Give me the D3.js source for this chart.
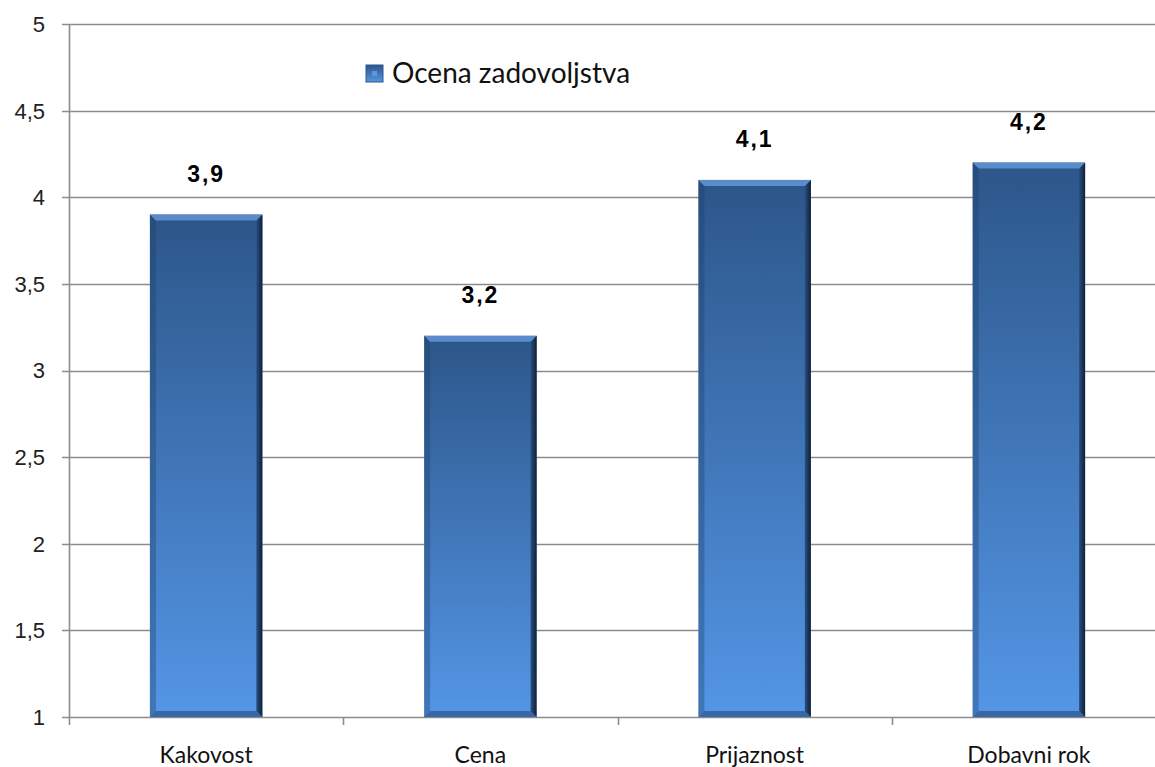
<!DOCTYPE html>
<html>
<head>
<meta charset="utf-8">
<script src="https://cdnjs.cloudflare.com/ajax/libs/d3/7.8.5/d3.min.js"></script>
<style>
  body { margin: 0; background: #fff; }
</style>
</head>
<body>
<svg id="chart"></svg>
<script>
const categories = ['Kakovost', 'Cena', 'Prijaznost', 'Dobavni rok'];
const values = [3.9, 3.2, 4.1, 4.2];
const yTicks = [1, 1.5, 2, 2.5, 3, 3.5, 4, 4.5, 5];
const seriesName = 'Ocena zadovoljstva';

const width = 1155, height = 767;
const margin = {top: 24, left: 69, bottom: 50};
const plotW = 1097;
const plotH = height - margin.top - margin.bottom;

const svg = d3.select('#chart').attr('width', width).attr('height', height);

const fmt = v => String(v).replace('.', ',');

const x = d3.scaleBand().domain(categories).range([0, plotW]).paddingInner(0.59).paddingOuter(0.295);
const xCat = d3.scaleBand().domain(categories).range([0, plotW]);
const y = d3.scaleLinear().domain([1, 5]).range([plotH, 0]);

// gradients
const defs = svg.append('defs');
const g1 = defs.append('linearGradient').attr('id', 'barFill').attr('x1', 0).attr('y1', 0).attr('x2', 0).attr('y2', 1);
g1.append('stop').attr('offset', '0%').attr('stop-color', '#2c5689');
g1.append('stop').attr('offset', '100%').attr('stop-color', '#5496e6');
const g2 = defs.append('linearGradient').attr('id', 'rightEdge').attr('x1', 0).attr('y1', 0).attr('x2', 1).attr('y2', 0);
g2.append('stop').attr('offset', '0%').attr('stop-color', '#2a4f80');
g2.append('stop').attr('offset', '100%').attr('stop-color', '#0f2038');

const chart = svg.append('g').attr('transform', `translate(${margin.left},${margin.top})`);

// gridlines
chart.append('g').selectAll('line').data(yTicks).join('line')
  .attr('x1', -7).attr('x2', width - margin.left)
  .attr('y1', d => Math.round(y(d)) + 0.5).attr('y2', d => Math.round(y(d)) + 0.5)
  .attr('stroke', '#8c8c8c').attr('stroke-width', 1.6);

// y axis line
chart.append('line').attr('x1', 0.5).attr('x2', 0.5).attr('y1', 0).attr('y2', plotH)
  .attr('stroke', '#8c8c8c').attr('stroke-width', 1.6);

// y labels
chart.append('g').selectAll('text').data(yTicks).join('text')
  .attr('x', -24).attr('y', d => y(d)).attr('dy', '0.36em')
  .attr('text-anchor', 'end')
  .style('font-family', '"Liberation Sans", Arial, sans-serif').style('font-size', '22px').style('fill', '#222')
  .text(d => fmt(d));

// x ticks
const xTickPos = categories.map(c => xCat(c)).concat([plotW]);
chart.append('g').selectAll('line').data(xTickPos).join('line')
  .attr('x1', d => Math.round(d) + 0.5).attr('x2', d => Math.round(d) + 0.5)
  .attr('y1', plotH).attr('y2', plotH + 8)
  .attr('stroke', '#8c8c8c').attr('stroke-width', 1.6);

// bars
const bev = 6;
const bars = chart.append('g').selectAll('g').data(values).join('g');
bars.each(function(v, i) {
  const g = d3.select(this);
  const x0 = x(categories[i]), w = x.bandwidth();
  const y0 = y(v), y1 = y(1);
  g.append('rect').attr('x', x0).attr('y', y0).attr('width', w).attr('height', y1 - y0).attr('fill', 'url(#barFill)');
  // left bevel
  g.append('polygon').attr('points', [[x0, y0], [x0 + bev, y0 + bev], [x0 + bev, y1 - bev], [x0, y1]].join(' '))
    .attr('fill', '#1e3c66').attr('opacity', 0.35);
  // right bevel
  g.append('polygon').attr('points', [[x0 + w, y0], [x0 + w - bev, y0 + bev], [x0 + w - bev, y1 - bev], [x0 + w, y1]].join(' '))
    .attr('fill', 'url(#rightEdge)');
  // bottom bevel
  g.append('polygon').attr('points', [[x0, y1], [x0 + bev, y1 - bev], [x0 + w - bev, y1 - bev], [x0 + w, y1]].join(' '))
    .attr('fill', '#244a7c').attr('opacity', 0.6);
  // top bevel
  g.append('polygon').attr('points', [[x0, y0], [x0 + w, y0], [x0 + w - bev, y0 + bev], [x0 + bev, y0 + bev]].join(' '))
    .attr('fill', '#5a8ccb');
  // data label
  g.append('text').attr('x', x0 + w / 2).attr('y', y0 - 33)
    .attr('text-anchor', 'middle')
    .style('font-family', '"Liberation Sans", Arial, sans-serif').style('font-weight', 'bold')
    .style('font-size', '23px').style('letter-spacing', '2px').style('fill', '#000')
    .text(fmt(v));
});

// category labels
chart.append('g').selectAll('text').data(categories).join('text')
  .attr('x', d => xCat(d) + xCat.bandwidth() / 2).attr('y', plotH + 46)
  .attr('text-anchor', 'middle')
  .style('font-family', 'Lato, "Noto Sans", sans-serif').style('font-size', '23px').style('fill', '#111')
  .text(d => d);

// legend
const leg = svg.append('g').attr('transform', 'translate(366,65)');
leg.append('rect').attr('width', 17).attr('height', 17).attr('fill', 'url(#barFill)').attr('stroke', '#2c5689').attr('stroke-width', 1);
leg.append('rect').attr('x', 6).attr('y', 6).attr('width', 5).attr('height', 5).attr('fill', '#6fa3e6').attr('opacity', 0.7);
leg.append('text').attr('x', 26).attr('y', 18)
  .style('font-family', 'Lato, "Noto Sans", sans-serif').style('font-size', '28px').style('fill', '#111')
  .text(seriesName);
</script>
</body>
</html>
